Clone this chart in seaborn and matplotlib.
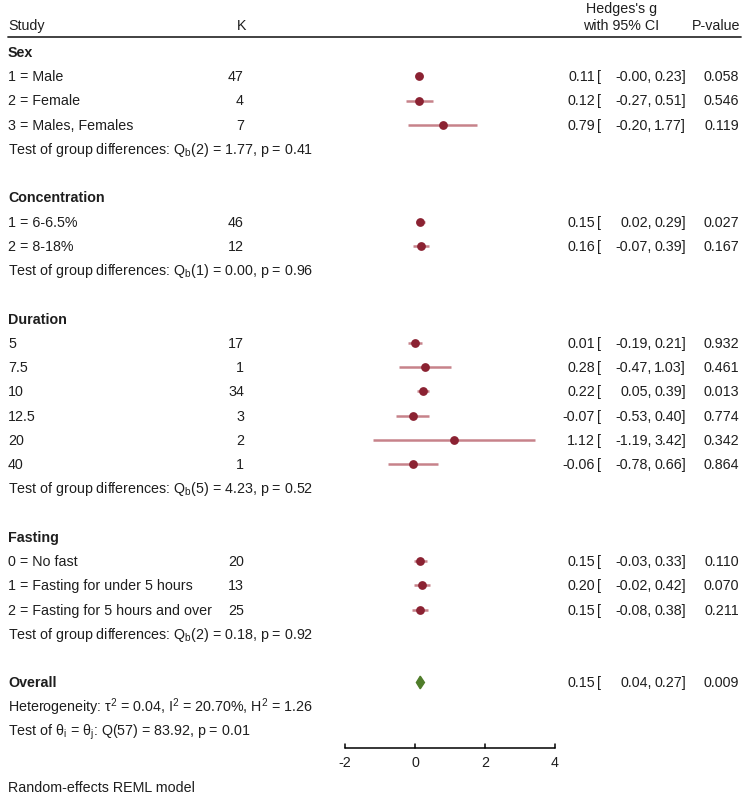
import numpy as np
import pandas as pd
import matplotlib
matplotlib.use('Agg')
import matplotlib.pyplot as plt
import seaborn as sns

# data
sex_labels = ['1 = Male', '2 = Female', '3 = Males, Females']
sex_k = [47, 4, 7]
sex_g = [0.11, 0.12, 0.79]
sex_lo = [-0.0, -0.27, -0.20]
sex_hi = [0.23, 0.51, 1.77]
sex_p = ['0.058', '0.546', '0.119']
sex_test = r'Q$_\mathrm{b}$(2) = 1.77, p = 0.41'

conc_labels = ['1 = 6-6.5%', '2 = 8-18%']
conc_k = [46, 12]
conc_g = [0.15, 0.16]
conc_lo = [0.02, -0.07]
conc_hi = [0.29, 0.39]
conc_p = ['0.027', '0.167']
conc_test = r'Q$_\mathrm{b}$(1) = 0.00, p = 0.96'

dur_labels = ['5', '7.5', '10', '12.5', '20', '40']
dur_k = [17, 1, 34, 3, 2, 1]
dur_g = [0.01, 0.28, 0.22, -0.07, 1.12, -0.06]
dur_lo = [-0.19, -0.47, 0.05, -0.53, -1.19, -0.78]
dur_hi = [0.21, 1.03, 0.39, 0.40, 3.42, 0.66]
dur_p = ['0.932', '0.461', '0.013', '0.774', '0.342', '0.864']
dur_test = r'Q$_\mathrm{b}$(5) = 4.23, p = 0.52'

fast_labels = ['0 = No fast', '1 = Fasting for under 5 hours', '2 = Fasting for 5 hours and over']
fast_k = [20, 13, 25]
fast_g = [0.15, 0.20, 0.15]
fast_lo = [-0.03, -0.02, -0.08]
fast_hi = [0.33, 0.42, 0.38]
fast_p = ['0.110', '0.070', '0.211']
fast_test = r'Q$_\mathrm{b}$(2) = 0.18, p = 0.92'

overall_g = 0.15
overall_lo = 0.04
overall_hi = 0.27
overall_p = '0.009'
heterogeneity = r'Heterogeneity: τ$^2$ = 0.04, I$^2$ = 20.70%, H$^2$ = 1.26'
homogeneity = r'Test of θ$_\mathrm{i}$ = θ$_\mathrm{j}$: Q(57) = 83.92, p = 0.01'

groups = [
    ('Sex', sex_labels, sex_k, sex_g, sex_lo, sex_hi, sex_p, sex_test),
    ('Concentration', conc_labels, conc_k, conc_g, conc_lo, conc_hi, conc_p, conc_test),
    ('Duration', dur_labels, dur_k, dur_g, dur_lo, dur_hi, dur_p, dur_test),
    ('Fasting', fast_labels, fast_k, fast_g, fast_lo, fast_hi, fast_p, fast_test),
]

sns.set_style('white')
plt.rcParams['font.family'] = ['Liberation Sans', 'DejaVu Sans']
plt.rcParams['mathtext.fontset'] = 'custom'
plt.rcParams['mathtext.rm'] = 'Liberation Sans'
plt.rcParams['mathtext.it'] = 'Liberation Sans:italic'
plt.rcParams['mathtext.bf'] = 'Liberation Sans:bold'

W, H = 755, 794
fig = plt.figure(figsize=(W / 100, H / 100), dpi=100)
ax = fig.add_axes([0, 0, 1, 1])
ax.set_axis_off()

# x: effect size scale (-2 at 345 px, 4 at 555 px); y: row units
ppu = 35.0
x0 = 415
ax.set_xlim(-x0 / ppu, (W - x0) / ppu)
row_h = 24.25
top = 52
ax.set_ylim((H - top) / row_h, -top / row_h)

tr = ax.get_yaxis_transform()  # x in figure fraction, y in rows
fs = 10.3
base = 0.2  # baseline offset below row centre
txt_col = '#1e1e1e'
mark_col = '#8b2232'
ci_col = '#c7828a'


def px(v):
    return v / W


def put(x, y, s, ha='left', **kw):
    ax.text(px(x), y + base, s, transform=tr, ha=ha, va='baseline',
            fontsize=fs, color=txt_col, **kw)


def ci_text(y, g, lo, hi, p):
    put(595, y, f'{g:.2f}', ha='right')
    put(597, y, '[')
    put(652, y, f'{lo:.2f},', ha='right')
    put(686, y, f'{hi:.2f}]', ha='right')
    put(739, y, p, ha='right')


# header
put(8, -1.1, 'Study')
put(237, -1.1, 'K')
put(622, -1.8, "Hedges's g", ha='center')
put(621, -1.1, 'with 95% CI', ha='center')
put(740, -1.1, 'P-value', ha='right')
ax.plot([px(8), px(741)], [-0.62, -0.62], transform=tr, color='#333333', lw=1.3)

rows = []
r = 0
for name, labels, ks, gs, los, his, ps, test in groups:
    put(8, r, name, fontweight='bold')
    r += 1
    for lab, k, g, lo, hi, p in zip(labels, ks, gs, los, his, ps):
        put(8, r, lab)
        put(244, r, str(k), ha='right')
        ci_text(r, g, lo, hi, p)
        rows.append({'row': r, 'g': g, 'lo': lo, 'hi': hi})
        r += 1
    put(8, r, 'Test of group differences: ' + test)
    r += 2

df = pd.DataFrame(rows)
ax.hlines(df['row'], df['lo'], df['hi'], color=ci_col, lw=1.8, zorder=2)
sns.scatterplot(data=df, x='g', y='row', ax=ax, color=mark_col, s=40,
                edgecolor=mark_col, linewidth=0, zorder=3, legend=False)

# overall
put(8, r, 'Overall', fontweight='bold')
dh = 0.26
ax.fill([overall_lo, overall_g, overall_hi, overall_g],
        [r, r - dh, r, r + dh], color='#4f7d2a', zorder=3)
ci_text(r, overall_g, overall_lo, overall_hi, overall_p)
put(8, r + 1, heterogeneity)
put(8, r + 2, homogeneity)

# effect-size axis
ticks = [-2, 0, 2, 4]
ya = r + 2.7
ax.plot([ticks[0], ticks[-1]], [ya, ya], color='black', lw=1.1, clip_on=False)
for t in ticks:
    ax.plot([t, t], [ya, ya - 0.17], color='black', lw=1.1)
    ax.text(t, ya + 0.6, str(t), ha='center', va='center',
            fontsize=fs, color=txt_col)

put(8, r + 4.3, 'Random-effects REML model')

fig.savefig('out.png', dpi=100)
plt.close(fig)
